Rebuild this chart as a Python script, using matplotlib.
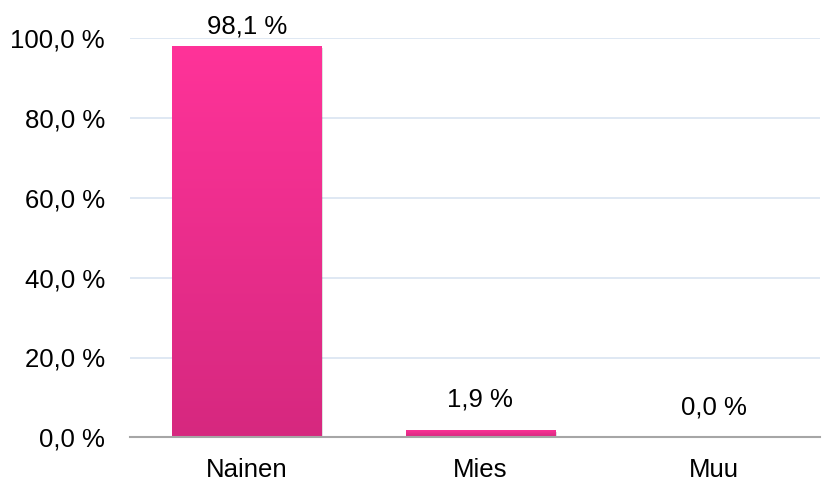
import matplotlib.pyplot as plt
import matplotlib.transforms as mtransforms
from matplotlib.colors import LinearSegmentedColormap
import numpy as np

plt.rcParams['font.family'] = ['Liberation Sans', 'DejaVu Sans']

categories = ['Nainen', 'Mies', 'Muu']
values = [98.1, 1.9, 0.0]
yticks = [0, 20, 40, 60, 80, 100]

fig = plt.figure(figsize=(8.22, 4.84), dpi=100)
ax = fig.add_axes([130 / 822, (484 - 437.3) / 484, 690 / 822, 399 / 484])

x = np.arange(len(categories))
bars = ax.bar(x, values, width=0.64, color='none', zorder=3)

grad = LinearSegmentedColormap.from_list('pink', ['#D6287F', '#FF3399'])
shadow_tr = mtransforms.offset_copy(ax.transData, fig=fig, x=2, y=-2, units='dots')
for bar in bars:
    h = bar.get_height()
    if h <= 0:
        continue
    x0, w = bar.get_x(), bar.get_width()
    sh = plt.Rectangle((x0, 0), w, h, facecolor='#000000', alpha=0.12,
                       transform=shadow_tr, zorder=2, linewidth=0)
    ax.add_patch(sh)
    img = ax.imshow(np.linspace(0, 1, 256).reshape(-1, 1), cmap=grad,
                    extent=(x0, x0 + w, 0, h), origin='lower', aspect='auto', zorder=3)
    img.set_clip_path(bar)

for xi, v in zip(x, values):
    ax.text(xi, min(v + 4.5, 100), f'{v:.1f} %'.replace('.', ','),
            ha='center', va='bottom', fontsize=18.5, zorder=5)

ax.set_xlim(-0.5, 2.455)
ax.set_ylim(0, 100)
ax.set_xticks(x)
ax.set_xticklabels(categories, fontsize=18.5)
ax.set_yticks(yticks)
ax.set_yticklabels([f'{t:.1f} %'.replace('.', ',') for t in yticks], fontsize=18.5)
ax.tick_params(axis='x', length=0, pad=15)
ax.tick_params(axis='y', length=0, pad=18)

ax.grid(axis='y', color='#DCE6F2', linewidth=1.3, zorder=0)
for s in ['left', 'right', 'top']:
    ax.spines[s].set_visible(False)
ax.spines['bottom'].set_color('#A6A6A6')
ax.spines['bottom'].set_linewidth(1.5)
ax.spines['bottom'].set_zorder(4)

fig.savefig('out.png', dpi=100)
